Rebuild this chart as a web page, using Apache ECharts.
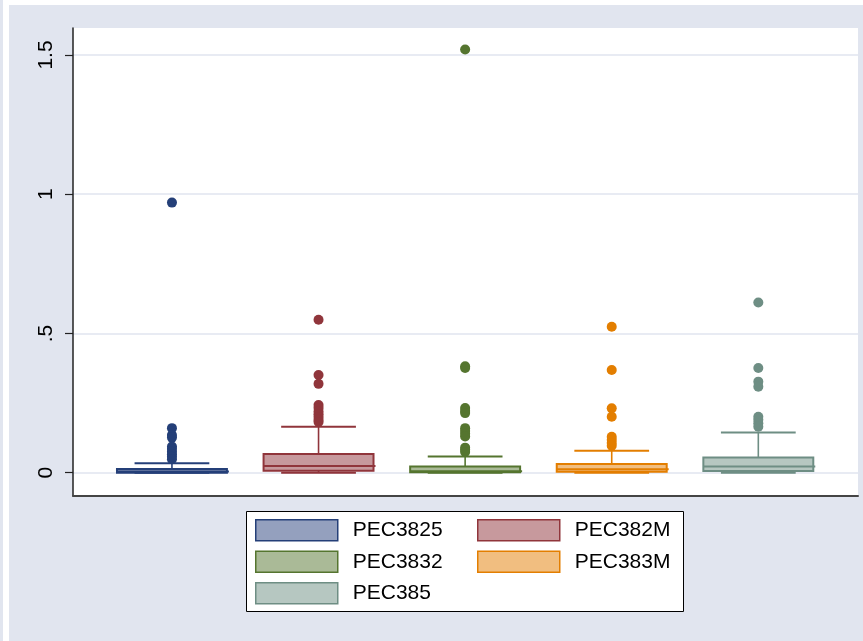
<!DOCTYPE html>
<html>
<head>
<meta charset="utf-8">
<script src="https://cdn.jsdelivr.net/npm/echarts@6/dist/echarts.min.js"></script>
<style>
html,body{margin:0;padding:0;background:#fff;}
#chart{width:863px;height:641px;}
</style>
</head>
<body>
<div id="chart"></div>
<script>
// ---- data ----
const categories = ['PEC3825', 'PEC382M', 'PEC3832', 'PEC383M', 'PEC385'];
const lowerWhisker = [0.000, 0.000, 0.000, 0.000, 0.000];
const q1Values = [0.000, 0.007, 0.002, 0.003, 0.006];
const medianValues = [0.004, 0.024, 0.005, 0.012, 0.022];
const q3Values = [0.013, 0.067, 0.022, 0.031, 0.055];
const upperWhisker = [0.034, 0.165, 0.058, 0.079, 0.144];
const outliers1 = [0.97, 0.16, 0.135, 0.126, 0.094, 0.085, 0.075, 0.066, 0.057, 0.048];
const outliers2 = [0.549, 0.351, 0.319, 0.243, 0.232, 0.22, 0.21, 0.20, 0.19, 0.182];
const outliers3 = [1.52, 0.382, 0.376, 0.232, 0.222, 0.214, 0.160, 0.150, 0.140, 0.130, 0.090, 0.082, 0.074];
const outliers4 = [0.524, 0.369, 0.231, 0.201, 0.129, 0.118, 0.107, 0.097];
const outliers5 = [0.611, 0.376, 0.327, 0.309, 0.201, 0.19, 0.178, 0.165];
const yTickValues = [0, 0.5, 1, 1.5];
const yTickLabels = ['0', '.5', '1', '1.5'];

// ---- styles ----
const lineColors = ['#243F78', '#90353B', '#55752F', '#E37E00', '#6E8E84'];
const fillColors = ['#94A0BE', '#C7999D', '#AABA97', '#F1BE80', '#B6C7C1'];
const outliers = [outliers1, outliers2, outliers3, outliers4, outliers5];
const FONT = 'Liberation Sans, Arial, sans-serif';

const chart = echarts.init(document.getElementById('chart'));

function renderBox(params, api) {
  const x = api.value(0);
  const lo = api.coord([x, api.value(1)]);
  const q1 = api.coord([x, api.value(2)]);
  const med = api.coord([x, api.value(3)]);
  const q3 = api.coord([x, api.value(4)]);
  const hi = api.coord([x, api.value(5)]);
  const bw = api.size([0.75, 0])[0];
  const cw = api.size([0.51, 0])[0];
  const i = params.seriesIndex;
  const c = lineColors[i], f = fillColors[i];
  const ls = {stroke: c, lineWidth: 1.6};
  return {
    type: 'group',
    children: [
      {type: 'line', shape: {x1: hi[0], y1: q3[1], x2: hi[0], y2: hi[1]}, style: ls},
      {type: 'line', shape: {x1: lo[0], y1: q1[1], x2: lo[0], y2: lo[1]}, style: ls},
      {type: 'line', shape: {x1: hi[0] - cw / 2, y1: hi[1], x2: hi[0] + cw / 2, y2: hi[1]}, style: {stroke: c, lineWidth: 2}},
      {type: 'line', shape: {x1: lo[0] - cw / 2, y1: lo[1], x2: lo[0] + cw / 2, y2: lo[1]}, style: {stroke: c, lineWidth: 2}},
      {type: 'rect', shape: {x: q3[0] - bw / 2, y: q3[1], width: bw, height: Math.max(q1[1] - q3[1], 1)}, style: {fill: f, stroke: c, lineWidth: 2}},
      {type: 'line', shape: {x1: med[0] - bw / 2, y1: med[1], x2: med[0] + bw / 2 + 2, y2: med[1]}, style: {stroke: c, lineWidth: 2}}
    ]
  };
}

const series = [];
categories.forEach((name, i) => {
  series.push({
    name: name,
    type: 'custom',
    renderItem: renderBox,
    itemStyle: {color: fillColors[i], borderColor: lineColors[i]},
    encode: {x: 0, y: [1, 2, 3, 4, 5]},
    data: [[i + 1, lowerWhisker[i], q1Values[i], medianValues[i], q3Values[i], upperWhisker[i]]],
    z: 2
  });
});
categories.forEach((name, i) => {
  series.push({
    name: name,
    type: 'scatter',
    symbol: 'circle',
    symbolSize: 10,
    itemStyle: {color: lineColors[i], opacity: 1},
    data: outliers[i].map(v => [i + 1, v]),
    z: 3
  });
});

function legendItem(i) {
  return {name: categories[i], icon: 'rect',
    itemStyle: {color: fillColors[i], borderColor: lineColors[i], borderWidth: 1.5}};
}
const legendCommon = {
  orient: 'vertical', top: 519, padding: 0,
  itemWidth: 82, itemHeight: 21, itemGap: 9,
  selectedMode: false, z: 10,
  textStyle: {fontFamily: FONT, fontSize: 21, color: '#000', padding: [0, 0, 0, 10]}
};

chart.setOption({
  animation: false,
  backgroundColor: '#ffffff',
  graphic: [
    {type: 'rect', z: -10, shape: {x: 9, y: 5, width: 854, height: 636}, style: {fill: '#E1E5EF'}, silent: true},
    {type: 'rect', z: -10, shape: {x: 0, y: 0, width: 3, height: 641}, style: {fill: '#E1E5EF'}, silent: true},
    {type: 'rect', z: 1, shape: {x: 246.5, y: 511.5, width: 437, height: 100}, style: {fill: '#fff', stroke: '#000', lineWidth: 1}, silent: true}
  ],
  grid: {left: 73, right: 5, top: 28, bottom: 145, show: true, backgroundColor: '#fff', borderWidth: 0, containLabel: false},
  xAxis: {
    type: 'value', min: 0.325, max: 5.68,
    axisLine: {show: true, onZero: false, lineStyle: {color: '#444', width: 2}},
    axisTick: {show: false}, axisLabel: {show: false}, splitLine: {show: false}
  },
  yAxis: {
    type: 'value', min: -0.0837, max: 1.597,
    axisLine: {show: true, onZero: false, lineStyle: {color: '#222', width: 1.5}},
    axisTick: {show: true, length: 8, customValues: yTickValues, lineStyle: {color: '#222', width: 1.2}},
    axisLabel: {
      show: true, customValues: yTickValues, rotate: 90, margin: 16,
      fontFamily: FONT, fontSize: 21, color: '#000',
      formatter: v => { const k = yTickValues.findIndex(t => Math.abs(t - v) < 1e-9); return k >= 0 ? yTickLabels[k] : ''; }
    },
    splitLine: {show: true, lineStyle: {color: '#E1E5EF', width: 1.5}}
  },
  legend: [
    Object.assign({}, legendCommon, {left: 255, data: [legendItem(0), legendItem(2), legendItem(4)]}),
    Object.assign({}, legendCommon, {left: 477, data: [legendItem(1), legendItem(3)]})
  ],
  series: series
});
</script>
</body>
</html>
